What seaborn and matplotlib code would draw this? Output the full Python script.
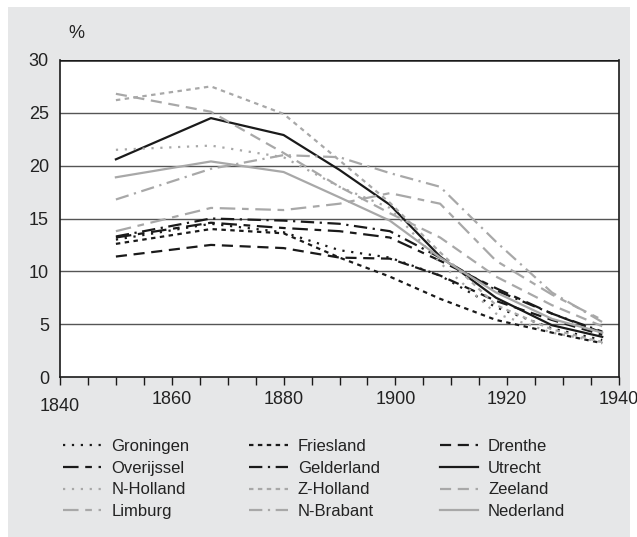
import pandas as pd
import numpy as np
import seaborn as sns
import matplotlib.pyplot as plt
from matplotlib.patches import Rectangle
from matplotlib.transforms import ScaledTranslation

# Data
years = [1850, 1867, 1880, 1890, 1899, 1908, 1918, 1928, 1937]

groningen = [13.0, 14.5, 13.7, 12.0, 11.3, 9.6, 6.6, 4.6, 3.5]
friesland = [12.6, 14.0, 13.6, 11.3, 9.5, 7.4, 5.4, 4.2, 3.2]
drenthe = [11.4, 12.5, 12.2, 11.3, 11.2, 9.6, 7.2, 5.4, 4.0]
overijssel = [13.2, 14.6, 14.1, 13.8, 13.2, 11.0, 8.4, 6.0, 4.2]
gelderland = [13.3, 15.0, 14.8, 14.5, 13.8, 11.3, 8.2, 6.0, 4.3]
utrecht = [20.6, 24.5, 22.9, 19.6, 16.3, 11.4, 7.5, 4.9, 3.8]
n_holland = [21.5, 21.9, 20.8, 18.0, 16.0, 10.8, 6.0, 4.2, 3.3]
z_holland = [26.2, 27.5, 24.9, 20.5, 16.5, 11.8, 6.8, 4.5, 3.3]
zeeland = [26.8, 25.1, 21.2, 18.0, 15.5, 13.2, 9.5, 6.8, 4.8]
limburg = [13.8, 16.0, 15.8, 16.4, 17.4, 16.4, 11.0, 7.8, 5.4]
n_brabant = [16.8, 19.7, 21.0, 20.8, 19.3, 18.0, 12.8, 8.0, 5.2]
nederland = [18.9, 20.4, 19.4, 17.0, 14.8, 11.3, 8.0, 5.5, 4.2]

names = ["Groningen", "Friesland", "Drenthe", "Overijssel", "Gelderland", "Utrecht",
         "N-Holland", "Z-Holland", "Zeeland", "Limburg", "N-Brabant", "Nederland"]
values = [groningen, friesland, drenthe, overijssel, gelderland, utrecht,
          n_holland, z_holland, zeeland, limburg, n_brabant, nederland]

black = "#1a1a1a"
grey = "#a8a8a8"
styles = {
    "Groningen": (black, (0, (1, 3))),
    "Friesland": (black, (0, (2, 2))),
    "Drenthe": (black, (0, (5, 3))),
    "Overijssel": (black, (0, (7, 3, 3, 3))),
    "Gelderland": (black, (0, (6, 2.5, 1, 2.5))),
    "Utrecht": (black, "-"),
    "N-Holland": (grey, (0, (1, 3))),
    "Z-Holland": (grey, (0, (2, 2))),
    "Zeeland": (grey, (0, (5, 3))),
    "Limburg": (grey, (0, (7, 3, 3, 3))),
    "N-Brabant": (grey, (0, (6, 2.5, 1, 2.5))),
    "Nederland": (grey, "-"),
}

df = pd.DataFrame({"jaar": np.tile(years, len(names)),
                   "waarde": np.concatenate(values),
                   "provincie": np.repeat(names, len(years))})

fig = plt.figure(figsize=(6.37, 5.37), dpi=100)
fig.patch.set_facecolor("white")
fig.add_artist(Rectangle((8 / 637, 0), 622 / 637, 530 / 537, transform=fig.transFigure,
                         facecolor="#e6e7e8", edgecolor="none", zorder=0))
plt.rcParams["font.family"] = ["Liberation Sans", "DejaVu Sans"]

ax = fig.add_axes([60 / 637, 160 / 537, 559 / 637, 317 / 537])
ax.set_facecolor("white")

handles = {}
for name in names:
    color, ls = styles[name]
    sub = df[df["provincie"] == name]
    sns.lineplot(data=sub, x="jaar", y="waarde", ax=ax, color=color, linewidth=1.6,
                 legend=False, zorder=3)
    line = ax.lines[-1]
    line.set_linestyle(ls)
    handles[name] = line

ax.set_xlim(1840, 1940)
ax.set_ylim(0, 30)
ax.set_xticks(range(1840, 1941, 20))
ax.set_xticks(range(1840, 1941, 5), minor=True)
ax.set_yticks(range(0, 31, 5))
for yv in range(5, 30, 5):
    ax.axhline(yv, color="#555555", linewidth=1.0, zorder=1)
ax.axhline(30, color=black, linewidth=1.8, zorder=2)

for side in ["left", "right", "bottom"]:
    ax.spines[side].set_color(black)
    ax.spines[side].set_linewidth(1.2)
ax.spines["top"].set_visible(False)
ax.tick_params(axis="x", which="both", direction="out", length=6, color=black, width=1)
ax.tick_params(axis="x", which="major", labelsize=13, pad=4, labelcolor="#222222")
ax.tick_params(axis="y", length=0, labelsize=13, pad=8, labelcolor="#222222")
ax.set_xlabel("")
ax.set_ylabel("")

# first year label sits a little lower
first = ax.get_xticklabels()[0]
first.set_transform(first.get_transform() + ScaledTranslation(0, -5 / 72, fig.dpi_scale_trans))

fig.text(68 / 637, 1 - 33 / 537, "%", fontsize=13, color="#222222", va="center", ha="left")
fig.text(8 / 637, 1 + 9 / 537, "1. Zuigelingensterfte \u2013 in Nederland per provincie",
         fontsize=13, fontweight="bold", color="#222222", ha="left", va="center")

order = ["Groningen", "Overijssel", "N-Holland", "Limburg",
         "Friesland", "Gelderland", "Z-Holland", "N-Brabant",
         "Drenthe", "Utrecht", "Zeeland", "Nederland"]
fig.legend([handles[n] for n in order], order, ncol=3, loc="upper left",
           bbox_to_anchor=(48 / 637, 1 - 424 / 537), frameon=False, fontsize=12,
           handlelength=2.3, handletextpad=0.6, columnspacing=3.6, labelspacing=0.4,
           labelcolor="#222222")

fig.savefig("out.png", dpi=100, facecolor=fig.get_facecolor())
